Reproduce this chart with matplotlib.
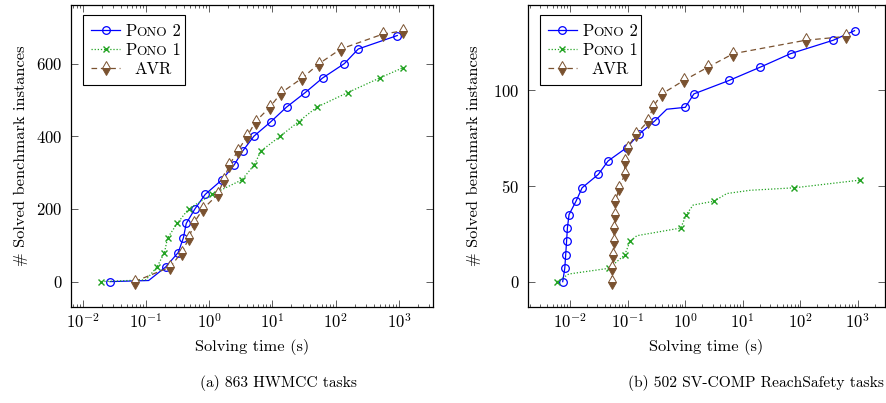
import matplotlib
matplotlib.use('Agg')
import matplotlib.pyplot as plt
from matplotlib.ticker import LogLocator, NullFormatter, FixedLocator

plt.rcParams['font.family'] = 'cmr10'
plt.rcParams['mathtext.fontset'] = 'cm'
plt.rcParams['axes.formatter.use_mathtext'] = True

# ---- (a) 863 HWMCC tasks
hw_pono2_t = [0.027, 0.11, 0.204, 0.323, 0.39, 0.433, 0.594, 0.865, 1.59, 2.46, 3.41, 5.09,
              9.46, 16.7, 33, 62, 138, 228, 944]
hw_pono2_n = [0, 3, 40, 80, 120, 160, 200, 240, 280, 320, 360, 400, 440, 480, 520, 560, 600, 640, 677]
hw_pono2_mark = [0] + list(range(2, 19))

hw_pono1_t = [0.0196, 0.1, 0.149, 0.196, 0.219, 0.312, 0.471, 1.11, 3.29, 5.09, 6.65, 13.3,
              25.9, 50.6, 155, 495, 1145]
hw_pono1_n = [0, 5, 40, 80, 120, 160, 200, 240, 280, 320, 360, 400, 440, 480, 520, 560, 588]
hw_pono1_mark = [0] + list(range(2, 17))

hw_avr_t = [0.066, 0.241, 0.365, 0.483, 0.565, 0.80, 1.37, 1.7, 2.07, 2.84, 3.99, 5.4, 9.1,
            13.9, 29.6, 55, 121, 560, 1175]
hw_avr_n = [0, 40, 80, 120, 160, 200, 240, 280, 320, 360, 400, 440, 480, 520, 560, 600, 640, 681, 690]

# ---- (b) 502 SV-COMP ReachSafety tasks
sv_pono2_t = [0.00746, 0.0081, 0.0084, 0.0087, 0.009, 0.0096, 0.0127, 0.0162, 0.031, 0.0458,
              0.097, 0.158, 0.3, 0.48, 1.01, 1.42, 5.8, 20.4, 68, 375, 881]
sv_pono2_n = [0, 7, 14, 21, 28, 35, 42, 49, 56, 63, 70, 77, 84, 90, 91, 98, 105, 112, 119, 126, 131]
sv_pono2_mark = list(range(0, 13)) + list(range(14, 21))

sv_pono1_t = [0.006, 0.0095, 0.0477, 0.0894, 0.11, 0.145, 0.84, 1.05, 1.38, 3.19, 5.3, 13.5, 79.6, 1095]
sv_pono1_n = [0, 4, 7, 14, 21, 24, 28, 35, 40, 42, 46, 47.7, 49, 53]
sv_pono1_mark = [0, 2, 3, 4, 6, 7, 9, 12, 13]

sv_avr_t = [0.0537, 0.054, 0.0566, 0.057, 0.059, 0.06, 0.0613, 0.072, 0.089, 0.089, 0.1, 0.142,
            0.23, 0.274, 0.394, 0.95, 2.51, 6.9, 124, 631]
sv_avr_n = [0, 7, 14, 21, 28, 35, 42, 49, 56, 63, 70, 77, 84, 91, 98, 105, 112, 119, 126, 128]

names = ['Pono 2', 'Pono 1', 'AVR']
c_blue = '#0000ff'
c_green = '#22a322'
c_brown = '#7a5230'
fs_tick = 12
fs_lab = 11.8
fs_leg = 12

fig = plt.figure(figsize=(8.86, 4.03), dpi=100)
ax1 = fig.add_axes([0.0801, 0.239, 0.4086, 0.7486])
ax2 = fig.add_axes([0.5956, 0.239, 0.4038, 0.7486])


def draw(ax, p2, p1, avr, xlim, ylim, yticks):
    ax.plot(p2[0], p2[1], color=c_blue, lw=0.9, marker='o', ms=5.5, mfc='none',
            mew=0.9, markevery=p2[2], label=names[0])
    ax.plot(p1[0], p1[1], color=c_green, lw=0.9, ls=(0, (1, 1.5)), marker='x', ms=5,
            mew=1.0, markevery=p1[2], label=names[1])
    ax.plot(avr[0], avr[1], color=c_brown, lw=0.9, ls=(0, (4.5, 3)), marker='d', ms=7,
            mfc=c_brown, mfcalt='white', fillstyle='bottom', mec=c_brown, mew=0.7,
            label=names[2])
    ax.set_xscale('log')
    ax.set_xlim(*xlim)
    ax.set_ylim(*ylim)
    ax.yaxis.set_major_locator(FixedLocator(yticks))
    ax.xaxis.set_major_locator(LogLocator(base=10, numticks=20))
    ax.xaxis.set_minor_locator(LogLocator(base=10, subs=range(2, 10), numticks=20))
    ax.xaxis.set_minor_formatter(NullFormatter())
    ax.tick_params(which='both', direction='in', top=True, right=True, labelsize=fs_tick,
                   color='#444444', width=0.6)
    ax.tick_params(which='major', length=4.8)
    ax.tick_params(which='minor', length=2.4)
    ax.tick_params(axis='y', pad=6)
    ax.tick_params(axis='x', pad=4)
    for s in ax.spines.values():
        s.set_linewidth(0.9)
    ax.set_xlabel('Solving time (s)', fontsize=fs_lab)
    ax.set_ylabel('# Solved benchmark instances', fontsize=fs_lab)

    leg = ax.legend(loc='upper left', bbox_to_anchor=(0.033, 0.967), borderaxespad=0,
                    fontsize=fs_leg, frameon=True, fancybox=False, framealpha=1,
                    edgecolor='black', handlelength=1.75, handletextpad=0.3,
                    labelspacing=0.22, borderpad=0.5)
    leg.get_frame().set_linewidth(0.8)
    texts = leg.get_texts()
    # small caps for the Pono labels, AVR centred in the column
    for t in texts:
        t.set_alpha(0)
        lab = t.get_text()
        if lab.startswith('Pono'):
            a = ax.annotate('P', xy=(0, 0), xycoords=t, fontsize=fs_leg, va='bottom',
                            ha='left', zorder=7)
            b = ax.annotate('ONO', xy=(1, 0), xycoords=a, fontsize=fs_leg * 0.8,
                            va='bottom', ha='left', zorder=7)
            ax.annotate(lab[4:], xy=(1, 0), xycoords=b, fontsize=fs_leg, va='bottom',
                        ha='left', zorder=7)
        else:
            ax.annotate(lab, xy=(0.55, 0), xycoords=(texts[0], t), fontsize=fs_leg,
                        va='bottom', ha='center', zorder=7)


draw(ax1, (hw_pono2_t, hw_pono2_n, hw_pono2_mark), (hw_pono1_t, hw_pono1_n, hw_pono1_mark),
     (hw_avr_t, hw_avr_n), (10 ** -2.187, 10 ** 3.54), (-69, 761), [0, 200, 400, 600])
draw(ax2, (sv_pono2_t, sv_pono2_n, sv_pono2_mark), (sv_pono1_t, sv_pono1_n, sv_pono1_mark),
     (sv_avr_t, sv_avr_n), (10 ** -2.736, 10 ** 3.483), (-13.05, 144.4), [0, 50, 100])

ax1.xaxis.set_label_coords(0.5, -0.108)
ax2.xaxis.set_label_coords(0.5, -0.108)
ax1.yaxis.set_label_coords(-0.12, 0.5)
ax2.yaxis.set_label_coords(-0.131, 0.5)

fig.text(278 / 886, 0.0496, '(a) 863 HWMCC tasks', fontsize=11.2, ha='center', va='center')
fig.text(756 / 886, 0.0496, '(b) 502 SV-COMP ReachSafety tasks', fontsize=11.2, ha='center',
         va='center')

fig.savefig('out.png', dpi=100)
